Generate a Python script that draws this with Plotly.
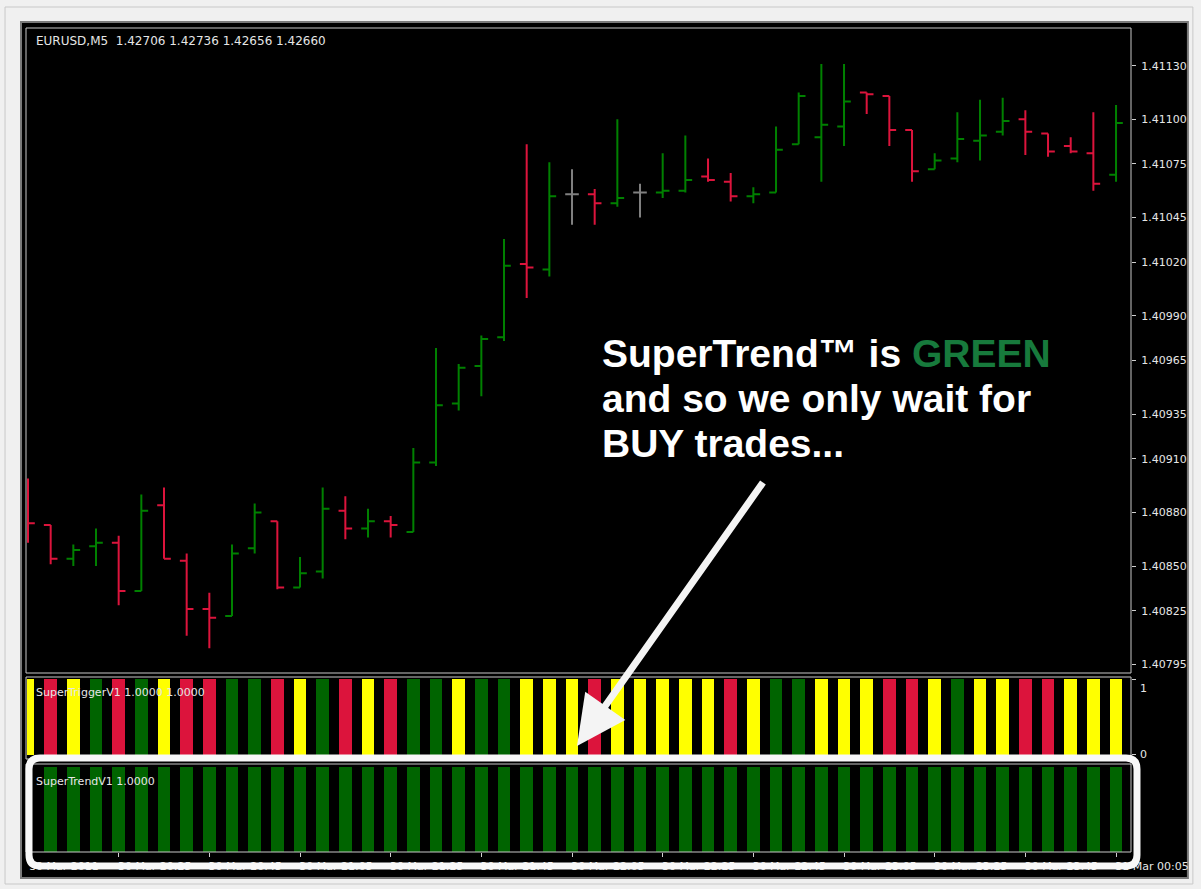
import plotly.graph_objects as go

# ---------------- data ----------------
bar_idx = list(range(49))
opens = [1.40893, 1.40873, 1.40854, 1.40861, 1.40863, 1.40836, 1.40884, 1.40853, 1.40826, 1.40822,
         1.40860, 1.40875, 1.40838, 1.40847, 1.40881, 1.40871, 1.40875, 1.40869, 1.40908, 1.40941,
         1.40962, 1.40978, 1.41019, 1.41016, 1.41058, 1.41058, 1.41053, 1.41059, 1.41059, 1.41060,
         1.41068, 1.41065, 1.41057, 1.41059, 1.41086, 1.41090, 1.41096, 1.41115, 1.41113, 1.41094,
         1.41072, 1.41078, 1.41088, 1.41093, 1.41100, 1.41092, 1.41085, 1.41081, 1.41069]
highs = [1.40899, 1.40873, 1.40862, 1.40871, 1.40867, 1.40890, 1.40894, 1.40857, 1.40835, 1.40862,
         1.40885, 1.40875, 1.40855, 1.40894, 1.40889, 1.40882, 1.40878, 1.40916, 1.40972, 1.40963,
         1.40979, 1.41033, 1.41086, 1.41076, 1.41072, 1.41061, 1.41100, 1.41064, 1.41081, 1.41091,
         1.41078, 1.41070, 1.41062, 1.41096, 1.41115, 1.41131, 1.41131, 1.41115, 1.41113, 1.41094,
         1.41081, 1.41104, 1.41111, 1.41112, 1.41105, 1.41092, 1.41090, 1.41104, 1.41108]
lows = [1.40863, 1.40851, 1.40850, 1.40850, 1.40828, 1.40836, 1.40854, 1.40811, 1.40804, 1.40822,
        1.40857, 1.40837, 1.40838, 1.40843, 1.40865, 1.40866, 1.40866, 1.40869, 1.40906, 1.40937,
        1.40945, 1.40976, 1.41000, 1.41012, 1.41041, 1.41041, 1.41051, 1.41045, 1.41056, 1.41059,
        1.41065, 1.41054, 1.41053, 1.41059, 1.41086, 1.41065, 1.41085, 1.41103, 1.41085, 1.41065,
        1.41072, 1.41076, 1.41077, 1.41091, 1.41080, 1.41079, 1.41081, 1.41060, 1.41065]
closes = [1.40874, 1.40854, 1.40859, 1.40863, 1.40836, 1.40881, 1.40854, 1.40826, 1.40821, 1.40857,
          1.40880, 1.40838, 1.40846, 1.40882, 1.40871, 1.40875, 1.40873, 1.40908, 1.40940, 1.40961,
          1.40977, 1.41018, 1.41017, 1.41057, 1.41058, 1.41053, 1.41056, 1.41059, 1.41060, 1.41066,
          1.41066, 1.41057, 1.41058, 1.41083, 1.41113, 1.41097, 1.41110, 1.41114, 1.41094, 1.41071,
          1.41077, 1.41089, 1.41091, 1.41099, 1.41093, 1.41082, 1.41082, 1.41064, 1.41098]

trigger_state = ["Y", "R", "Y", "G", "R", "G", "Y", "R", "R", "G", "G", "R", "Y", "G", "R", "Y", "R",
                 "G", "G", "Y", "G", "G", "Y", "Y", "Y", "R", "Y", "Y", "Y", "Y", "Y", "R", "Y",
                 "G", "G", "Y", "Y", "Y", "R", "R", "Y", "G", "Y", "Y", "R", "R", "Y", "Y", "Y"]
trigger_values = [1, 1, 1, 1, 1, 1, 1, 1, 1, 1, 1, 1, 1, 1, 1, 1, 1, 1, 1, 1, 1, 1, 1, 1, 1,
                  1, 1, 1, 1, 1, 1, 1, 1, 1, 1, 1, 1, 1, 1, 1, 1, 1, 1, 1, 1, 1, 1, 1, 1]
trend_values = [0, 1, 1, 1, 1, 1, 1, 1, 1, 1, 1, 1, 1, 1, 1, 1, 1, 1, 1, 1, 1, 1, 1, 1, 1,
                1, 1, 1, 1, 1, 1, 1, 1, 1, 1, 1, 1, 1, 1, 1, 1, 1, 1, 1, 1, 1, 1, 1, 1]

price_ticks = [1.41130, 1.41100, 1.41075, 1.41045, 1.41020, 1.40990, 1.40965, 1.40935,
               1.40910, 1.40880, 1.40850, 1.40825, 1.40795]
time_tick_idx = [0, 4, 8, 12, 16, 20, 24, 28, 32, 36, 40, 44, 48]
time_tick_labels = ["30 Mar 2011", "30 Mar 20:25", "30 Mar 20:45", "30 Mar 21:05", "30 Mar 21:25",
                    "30 Mar 21:45", "30 Mar 22:05", "30 Mar 22:25", "30 Mar 22:45", "30 Mar 23:05",
                    "30 Mar 23:25", "30 Mar 23:45", "31 Mar 00:05"]

header_text = "EURUSD,M5  1.42706 1.42736 1.42656 1.42660"
trigger_label = "SuperTriggerV1 1.0000 1.0000"
trend_label = "SuperTrendV1 1.0000"

# ---------------- styling ----------------
W, H = 1201, 889
PL, PR, PT, PB = 27, 1133, 28, 852   # plot area in pixels
GREEN_BAR = "#008000"
RED_BAR = "#dc143c"
DOJI = "#808080"
IND_COL = {"Y": "#ffff00", "R": "#dc143c", "G": "#006400"}
TXT = "#e6e6e6"
FONT = "DejaVu Sans"


def px(x):
    return (x - PL) / (PR - PL)


def py(y):
    return (PB - y) / (PB - PT)


up = [i for i in bar_idx if closes[i] > opens[i]]
dn = [i for i in bar_idx if closes[i] < opens[i]]
flat = [i for i in bar_idx if closes[i] == opens[i]]

fig = go.Figure()


def ohlc_trace(idx, color):
    return go.Ohlc(
        x=[bar_idx[i] for i in idx], open=[opens[i] for i in idx], high=[highs[i] for i in idx],
        low=[lows[i] for i in idx], close=[closes[i] for i in idx],
        increasing=dict(line=dict(color=color, width=2)),
        decreasing=dict(line=dict(color=color, width=2)),
        tickwidth=0.3, xaxis="x", yaxis="y", showlegend=False, hoverinfo="skip")


fig.add_trace(ohlc_trace(up, GREEN_BAR))
fig.add_trace(ohlc_trace(dn, RED_BAR))
fig.add_trace(ohlc_trace(flat, DOJI))

fig.add_trace(go.Bar(x=bar_idx, y=trigger_values, width=0.55,
                     marker=dict(color=[IND_COL[s] for s in trigger_state], line=dict(width=0)),
                     xaxis="x2", yaxis="y2", showlegend=False, hoverinfo="skip"))
fig.add_trace(go.Bar(x=bar_idx, y=trend_values, width=0.55,
                     marker=dict(color="#006400", line=dict(width=0)),
                     xaxis="x3", yaxis="y3", showlegend=False, hoverinfo="skip"))

bar_px = (1118 - 28) / 48.0
xr = [0 - (28 - PL) / bar_px, 48 + (PR - 1118) / bar_px]

price_per_px = (1.41130 - 1.40795) / (664.3 - 65.7)
y_top = 1.41130 + (65.7 - PT) * price_per_px
y_bot = 1.41130 - (673 - 65.7) * price_per_px

axis_common = dict(showgrid=False, zeroline=False, showline=False)

fig.update_layout(
    width=W, height=H,
    margin=dict(l=PL, r=W - PR, t=PT, b=H - PB, pad=0),
    paper_bgcolor="#f0f0f0", plot_bgcolor="#000000",
    bargap=0,
    font=dict(family=FONT, size=11, color=TXT),
    xaxis=dict(domain=[0, 1], range=xr, anchor="y", showticklabels=False, ticks="",
               rangeslider=dict(visible=False), **axis_common),
    xaxis2=dict(domain=[0, 1], range=xr, anchor="y2", matches="x", showticklabels=False, ticks="",
                **axis_common),
    xaxis3=dict(domain=[0, 1], range=xr, anchor="y3", matches="x", tickmode="array",
                tickvals=time_tick_idx, ticktext=time_tick_labels, ticks="outside", ticklen=4,
                tickcolor="#d0d0d0", tickfont=dict(family=FONT, size=11, color=TXT),
                ticklabelshift=36, ticklabelstandoff=0, **axis_common),
    yaxis=dict(domain=[py(673), 1], range=[y_bot, y_top], side="right", anchor="x",
               tickmode="array", tickvals=price_ticks, ticktext=[f"{v:.5f}" for v in price_ticks],
               ticks="outside", ticklen=4, tickcolor="#d0d0d0", ticklabelstandoff=3,
               tickfont=dict(family=FONT, size=11, color=TXT), **axis_common),
    yaxis2=dict(domain=[py(757), py(677)], range=[-0.03, 1.03], side="right", anchor="x2",
                tickmode="array", tickvals=[1, 0], ticks="outside", ticklen=4, tickcolor="#d0d0d0",
                showticklabels=False, **axis_common),
    yaxis3=dict(domain=[0, py(767)], range=[0, 1], side="right", anchor="x3",
                showticklabels=False, ticks="", **axis_common),
)

shapes = []
# outer window border
shapes.append(dict(type="rect", xref="paper", yref="paper", x0=px(5), x1=px(1195), y0=py(884), y1=py(7),
                   line=dict(color="#c8c8c8", width=1), fillcolor="rgba(0,0,0,0)", layer="below"))
# black chart window
shapes.append(dict(type="rect", xref="paper", yref="paper", x0=px(21), x1=px(1190), y0=py(878), y1=py(22),
                   line=dict(color="#7a7a7a", width=2), fillcolor="#000000", layer="below"))
# panel frames
for (y0, y1) in [(28, 673), (677, 759), (764, 852)]:
    shapes.append(dict(type="rect", xref="paper", yref="paper", x0=px(26), x1=px(PR), y0=py(y1), y1=py(y0),
                       line=dict(color="#c8c8c8", width=1), fillcolor="rgba(0,0,0,0)", layer="above"))

# rounded white highlight box
x0, x1, y0, y1, r = 29, 1139, 758, 866, 11
path = (f"M {px(x0 + r)},{py(y0)} L {px(x1 - r)},{py(y0)} Q {px(x1)},{py(y0)} {px(x1)},{py(y0 + r)} "
        f"L {px(x1)},{py(y1 - r)} Q {px(x1)},{py(y1)} {px(x1 - r)},{py(y1)} "
        f"L {px(x0 + r)},{py(y1)} Q {px(x0)},{py(y1)} {px(x0)},{py(y1 - r)} "
        f"L {px(x0)},{py(y0 + r)} Q {px(x0)},{py(y0)} {px(x0 + r)},{py(y0)} Z")
shapes.append(dict(type="path", xref="paper", yref="paper", path=path,
                   line=dict(color="#f8f8f8", width=7), fillcolor="rgba(0,0,0,0)", layer="above"))
fig.update_layout(shapes=shapes)

ann = []
ann.append(dict(text=header_text, x=px(34), y=py(41), xref="paper", yref="paper", xanchor="left",
                yanchor="middle", showarrow=False, font=dict(family=FONT, size=12, color=TXT)))
ann.append(dict(text=trigger_label, x=px(34), y=py(692), xref="paper", yref="paper", xanchor="left",
                yanchor="middle", showarrow=False, font=dict(family=FONT, size=11, color=TXT)))
ann.append(dict(text=trend_label, x=px(34), y=py(781), xref="paper", yref="paper", xanchor="left",
                yanchor="middle", showarrow=False, font=dict(family=FONT, size=11, color=TXT)))
ann.append(dict(text="1", x=px(1140), y=py(688), xref="paper", yref="paper", xanchor="left",
                yanchor="middle", showarrow=False, font=dict(family=FONT, size=11, color=TXT)))
ann.append(dict(text="0", x=px(1140), y=py(754), xref="paper", yref="paper", xanchor="left",
                yanchor="middle", showarrow=False, font=dict(family=FONT, size=11, color=TXT)))

BIG = dict(family="Arial, Liberation Sans", size=39, color="#ffffff")
lines = ["<b>SuperTrend™ is <span style='color:#177a3c'>GREEN</span></b>",
         "<b>and so we only wait for</b>",
         "<b>BUY trades...</b>"]
for txt, yc in zip(lines, [353, 398, 443]):
    ann.append(dict(text=txt, x=px(601), y=py(yc), xref="paper", yref="paper", xanchor="left",
                    yanchor="middle", showarrow=False, font=BIG))

# arrow
ann.append(dict(text="", x=px(578), y=py(746), xref="paper", yref="paper", showarrow=True,
                ax=765 - 578, ay=481 - 746, arrowcolor="#f4f4f4", arrowwidth=7, arrowhead=2,
                arrowsize=1.4, standoff=0))
fig.update_layout(annotations=ann)

fig.write_html("out.html", config={"displayModeBar": False},
               post_script="document.body.style.margin='0';document.body.style.overflow='hidden';")
